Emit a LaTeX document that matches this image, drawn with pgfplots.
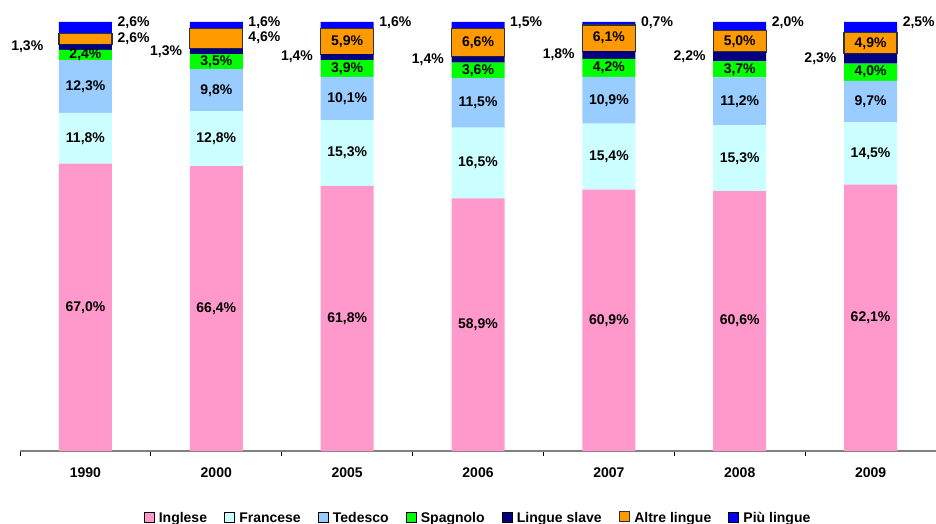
\documentclass[border=0pt]{standalone}
\usepackage{pgfplots}
\pgfplotsset{compat=1.18}
\usepackage{fontspec}
\setmainfont{Liberation Sans}
\definecolor{cIng}{HTML}{FF99CC}
\definecolor{cFra}{HTML}{CCFFFF}
\definecolor{cTed}{HTML}{99CCFF}
\definecolor{cSpa}{HTML}{00FF00}
\definecolor{cSla}{HTML}{000080}
\definecolor{cAlt}{HTML}{FF9900}
\definecolor{cPiu}{HTML}{0000FF}
\newcommand\lf{\bfseries\fontsize{14}{16}\selectfont}
\newcommand\gap{\strut\rule{15pt}{0pt}}
\pgfplotsset{sq/.style={legend image code/.code={\draw[##1,/tikz/.cd] (0pt,-4pt) rectangle (10pt,6pt); \path[draw=none,fill=none] (0pt,0pt) -- (13pt,0pt);}}}
\begin{document}
\begin{tikzpicture}
\useasboundingbox (-20pt,-73pt) rectangle (916pt,451pt);
\begin{axis}[at={(0pt,0pt)}, anchor=south west, scale only axis,
  width=916pt, height=429pt,
  ybar stacked, bar width=53pt,
  xmin=-0.5, xmax=6.5, ymin=0, ymax=100,
  axis y line=none, axis x line*=bottom,
  x axis line style={draw=gray, line width=1.5pt},
  xtick={-0.5,0.5,...,6.5},
  xticklabels={1990,2000,2005,2006,2007,2008,2009},
  x tick label as interval,
  tick align=outside, major tick length=5pt,
  xtick style={black, line width=0.8pt},
  xticklabel style={font=\lf, anchor=center, yshift=-17pt},
  legend columns=-1,
  legend style={draw=none, fill=none, at={(0.5,-0.1555)}, anchor=center, font=\lf},
]
\addplot[fill=cIng, draw=none, sq] coordinates {(0,67.0) (1,66.4) (2,61.8) (3,58.9) (4,60.9) (5,60.6) (6,62.1)};
\addplot[fill=cFra, draw=none, sq] coordinates {(0,11.8) (1,12.8) (2,15.3) (3,16.5) (4,15.4) (5,15.3) (6,14.5)};
\addplot[fill=cTed, draw=none, sq] coordinates {(0,12.3) (1,9.8) (2,10.1) (3,11.5) (4,10.9) (5,11.2) (6,9.7)};
\addplot[fill=cSpa, draw=none, sq] coordinates {(0,2.4) (1,3.5) (2,3.9) (3,3.6) (4,4.2) (5,3.7) (6,4.0)};
\addplot[fill=cSla, draw=none, sq] coordinates {(0,1.3) (1,1.3) (2,1.4) (3,1.4) (4,1.8) (5,2.2) (6,2.3)};
\addplot[fill=cAlt, draw=black!80, line width=1.2pt, sq] coordinates {(0,2.6) (1,4.6) (2,5.9) (3,6.6) (4,6.1) (5,5.0) (6,4.9)};
\addplot[fill=cPiu, draw=none, sq] coordinates {(0,2.6) (1,1.6) (2,1.6) (3,1.5) (4,0.7) (5,2.0) (6,2.5)};
\legend{Inglese\gap, Francese\gap, Tedesco\gap, Spagnolo\gap, Lingue slave\gap, Altre lingue\gap, Più lingue\strut}
\end{axis}
\begin{axis}[at={(0pt,0pt)}, anchor=south west, scale only axis,
  width=916pt, height=429pt,
  xmin=-0.5, xmax=6.5, ymin=0, ymax=100, hide axis, clip=false,
  nodes near coords, point meta=explicit symbolic,
  every node near coord/.append style={font=\lf, text=black, inner sep=0pt},
]
% centred labels
\addplot[draw=none, mark=none, nodes near coords align={center}] coordinates {(0,33.5)[67,0\%] (1,33.2)[66,4\%] (2,30.9)[61,8\%] (3,29.45)[58,9\%] (4,30.45)[60,9\%] (5,30.3)[60,6\%] (6,31.05)[62,1\%]};
\addplot[draw=none, mark=none, nodes near coords align={center}] coordinates {(0,72.9)[11,8\%] (1,72.8)[12,8\%] (2,69.45)[15,3\%] (3,67.15)[16,5\%] (4,68.6)[15,4\%] (5,68.25)[15,3\%] (6,69.35)[14,5\%]};
\addplot[draw=none, mark=none, nodes near coords align={center}] coordinates {(0,84.95)[12,3\%] (1,84.1)[9,8\%] (2,82.15)[10,1\%] (3,81.15)[11,5\%] (4,81.75)[10,9\%] (5,81.5)[11,2\%] (6,81.45)[9,7\%]};
\addplot[draw=none, mark=none, nodes near coords align={center}] coordinates {(0,92.4)[2,4\%] (1,90.75)[3,5\%] (2,89.15)[3,9\%] (3,88.7)[3,6\%] (4,89.3)[4,2\%] (5,88.95)[3,7\%] (6,88.3)[4,0\%]};
\addplot[draw=none, mark=none, nodes near coords align={center}] coordinates {(2,95.45)[5,9\%] (3,95.2)[6,6\%] (4,96.25)[6,1\%] (5,95.5)[5,0\%] (6,95.05)[4,9\%]};
% left labels (Lingue slave)
\addplot[draw=none, mark=none, nodes near coords align={east}, every node near coord/.append style={xshift=-42pt}] coordinates {(0,94.15)[1,3\%]};
\addplot[draw=none, mark=none, nodes near coords align={east}, every node near coord/.append style={xshift=-34pt}] coordinates {(1,93.15)[1,3\%] (2,91.8)[1,4\%] (3,91.2)[1,4\%] (4,92.3)[1,8\%] (5,91.9)[2,2\%] (6,91.45)[2,3\%]};
% right labels
\addplot[draw=none, mark=none, nodes near coords align={west}, every node near coord/.append style={xshift=32pt}] coordinates {(0,99.8)[2,6\%] (1,99.8)[1,6\%] (2,99.8)[1,6\%] (3,99.8)[1,5\%] (4,99.8)[0,7\%] (5,99.8)[2,0\%] (6,99.8)[2,5\%]};
\addplot[draw=none, mark=none, nodes near coords align={west}, every node near coord/.append style={xshift=32pt}] coordinates {(0,96.0)[2,6\%] (1,96.4)[4,6\%]};
\end{axis}
\end{tikzpicture}
\end{document}
